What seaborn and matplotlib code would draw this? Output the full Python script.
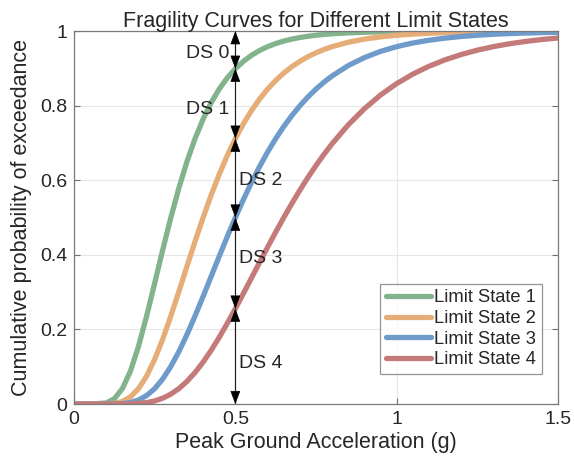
"""
Fragility curves for four limit states, with damage-state bands at PGA = 0.5 g.
"""
import numpy as np
import pandas as pd
import matplotlib
matplotlib.use("Agg")
import matplotlib.pyplot as plt
import seaborn as sns

# values
pga = [0.0, 0.05, 0.1, 0.125, 0.15, 0.175, 0.2, 0.225, 0.25, 0.275, 0.3,
       0.325, 0.35, 0.375, 0.4, 0.425, 0.45, 0.475, 0.5, 0.525, 0.55, 0.575,
       0.6, 0.625, 0.65, 0.675, 0.7, 0.725, 0.75, 0.775, 0.8, 0.85, 0.9, 0.95,
       1.0, 1.05, 1.1, 1.15, 1.2, 1.25, 1.3, 1.35, 1.4, 1.45, 1.5]

ls1 = [0.0, 0.0, 0.0030, 0.0143, 0.0416, 0.0889, 0.1554, 0.2360, 0.3243, 0.4139, 0.5,
       0.5793, 0.6501, 0.7116, 0.7640, 0.8081, 0.8447, 0.8747, 0.8992, 0.9191, 0.9352, 0.9481,
       0.9584, 0.9667, 0.9734, 0.9787, 0.9829, 0.9863, 0.9890, 0.9912, 0.9929, 0.9954, 0.9970,
       0.9980, 0.9987, 0.9991, 0.9994, 0.9996, 0.9997, 0.9998, 0.9999, 0.9999, 0.9999, 1.0, 1.0]
ls2 = [0.0, 0.0, 0.0003, 0.0018, 0.0071, 0.0194, 0.0415, 0.0751, 0.1200, 0.1744, 0.2361,
       0.3019, 0.3692, 0.4360, 0.5, 0.5602, 0.6158, 0.6664, 0.7116, 0.7517, 0.7871, 0.8178,
       0.8447, 0.8677, 0.8876, 0.9046, 0.9191, 0.9315, 0.9420, 0.9509, 0.9585, 0.9703, 0.9787,
       0.9847, 0.9890, 0.9921, 0.9943, 0.9959, 0.9970, 0.9978, 0.9984, 0.9988, 0.9991, 0.9994,
       0.9995]
ls3 = [0.0, 0.0, 0.0, 0.0003, 0.0013, 0.0043, 0.0110, 0.0229, 0.0415, 0.0675, 0.1008,
       0.1407, 0.1862, 0.2361, 0.2884, 0.3422, 0.3961, 0.4491, 0.5, 0.5485, 0.5941, 0.6366,
       0.6758, 0.7116, 0.7441, 0.7734, 0.7998, 0.8235, 0.8446, 0.8634, 0.8800, 0.9077, 0.9291,
       0.9457, 0.9585, 0.9682, 0.9756, 0.9813, 0.9857, 0.9890, 0.9916, 0.9935, 0.9950, 0.9961,
       0.9970]
ls4 = [0.0, 0.0, 0.0, 0.0, 0.0001, 0.0005, 0.0016, 0.0040, 0.0084, 0.0158, 0.0266,
       0.0415, 0.0609, 0.0846, 0.1124, 0.1441, 0.1790, 0.2165, 0.2559, 0.2967, 0.3382, 0.3796,
       0.4207, 0.4610, 0.5, 0.5376, 0.5735, 0.6076, 0.6398, 0.6700, 0.6981, 0.7488, 0.7920,
       0.8287, 0.8593, 0.8847, 0.9058, 0.9231, 0.9373, 0.9490, 0.9585, 0.9662, 0.9725, 0.9776,
       0.9817]

states = ["Limit State 1", "Limit State 2", "Limit State 3", "Limit State 4"]
colors = ["#82B38C", "#E6AD78", "#6F9BCB", "#C47A78"]

# damage-state bands at the marker PGA
ds_pga = 0.5
ds_bounds = [1.0, 0.8992, 0.7116, 0.5, 0.2559, 0.0]
ds_labels = ["DS 0", "DS 1", "DS 2", "DS 3", "DS 4"]
ds_label_y = [0.94, 0.79, 0.6, 0.39, 0.11]

df = pd.DataFrame({
    "pga": pga * 4,
    "prob": ls1 + ls2 + ls3 + ls4,
    "state": [s for s in states for _ in pga],
})

sns.set_style("whitegrid")
plt.rcParams["font.family"] = ["Liberation Sans", "DejaVu Sans"]

fig = plt.figure(figsize=(5.74, 4.65), dpi=100)
ax = fig.add_axes([0.129, 0.131, 0.843, 0.802])

sns.lineplot(data=df, x="pga", y="prob", hue="state", palette=colors,
             linewidth=3.8, ax=ax, sort=False)

# arrows + labels for damage states
ax.plot([ds_pga, ds_pga], [0, 1], color="#606060", lw=0.9, zorder=4)
for i, lab in enumerate(ds_labels):
    top, bot = ds_bounds[i], ds_bounds[i + 1]
    ax.annotate("", xy=(ds_pga, bot), xytext=(ds_pga, top),
                arrowprops=dict(arrowstyle="<|-|>,head_length=0.85,head_width=0.32",
                                color="black", lw=0.5, shrinkA=0, shrinkB=0),
                zorder=5)
    if i < 2:
        ax.text(0.483, ds_label_y[i], lab, ha="right", va="center", fontsize=14)
    else:
        ax.text(0.511, ds_label_y[i], lab, ha="left", va="center", fontsize=14)

ax.set_xlim(0, 1.5)
ax.set_ylim(0, 1)
ax.set_xticks([0, 0.5, 1, 1.5])
ax.set_xticklabels(["0", "0.5", "1", "1.5"])
ax.set_yticks([0, 0.2, 0.4, 0.6, 0.8, 1])
ax.set_yticklabels(["0", "0.2", "0.4", "0.6", "0.8", "1"])
ax.tick_params(direction="in", length=4, color="#707070", labelsize=14,
               top=True, right=True, left=True, bottom=True, pad=5)
ax.grid(True, color="#E6E6E6", lw=0.8)
for sp in ax.spines.values():
    sp.set_visible(True)
    sp.set_color("#7A7A7A")
    sp.set_linewidth(0.9)

ax.set_xlabel("Peak Ground Acceleration (g)", fontsize=15.5, labelpad=3)
ax.set_ylabel("Cumulative probability of exceedance", fontsize=15.5, labelpad=6)
ax.set_title("Fragility Curves for Different Limit States", fontsize=15.5, pad=3)

leg = ax.legend(loc="lower right", bbox_to_anchor=(0.967, 0.08), fontsize=13.2,
                frameon=True, fancybox=False, handlelength=2.5, handletextpad=0.15,
                borderpad=0.32, labelspacing=0.2, borderaxespad=0)
leg.get_frame().set_edgecolor("#7A7A7A")
leg.get_frame().set_linewidth(0.9)
for line in leg.get_lines():
    line.set_linewidth(3.8)

fig.savefig("out.png", dpi=100)
